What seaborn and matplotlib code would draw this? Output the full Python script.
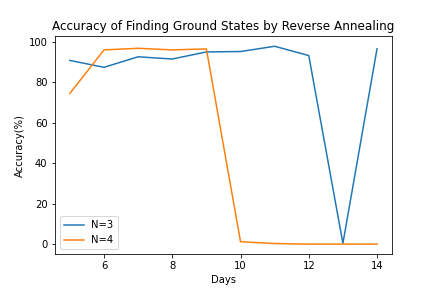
import numpy as np
import pandas as pd
import matplotlib
matplotlib.use('Agg')
import matplotlib.pyplot as plt
import seaborn as sns

days = [5, 6, 7, 8, 9, 10, 11, 12, 13, 14]
acc_n3 = [90.8, 87.4, 92.6, 91.5, 95.0, 95.2, 97.8, 93.2, 0.4, 96.6]
acc_n4 = [74.5, 96.0, 96.8, 96.0, 96.5, 1.2, 0.3, 0.0, 0.0, 0.0]

df = pd.DataFrame({
    'Days': days * 2,
    'Accuracy': acc_n3 + acc_n4,
    'N': ['N=3'] * len(days) + ['N=4'] * len(days),
})

fig, ax = plt.subplots(figsize=(436 / 72, 291 / 72), dpi=72)
fig.subplots_adjust(left=0.125, right=0.9, bottom=0.127, top=0.875)
sns.lineplot(data=df, x='Days', y='Accuracy', hue='N',
             palette=['#1f77b4', '#ff7f0e'], linewidth=1.5, ax=ax)

ax.set_xlabel('Days')
ax.set_ylabel('Accuracy(%)')
ax.set_title('Accuracy of Finding Ground States by Reverse Annealing')
ax.legend(loc='lower left', title=None)

fig.savefig('out.png', dpi=72)
